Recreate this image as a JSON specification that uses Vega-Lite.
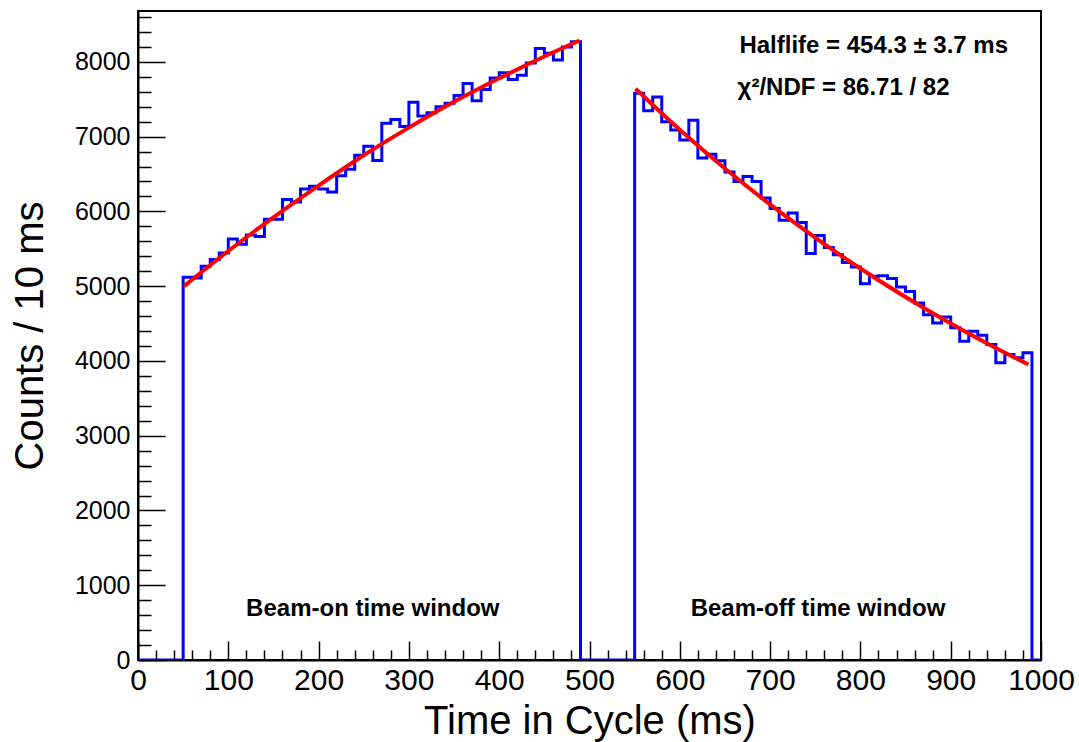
{
  "$schema": "https://vega.github.io/schema/vega-lite/v6.json",
  "width": 903,
  "height": 649,
  "autosize": "none",
  "padding": {"left": 138, "top": 11, "right": 38, "bottom": 82},
  "background": "white",
  "config": {
    "view": {"stroke": "black", "strokeWidth": 2},
    "font": "Liberation Sans",
    "axis": {"grid": false, "domainColor": "black", "tickColor": "black", "labelColor": "black", "titleColor": "black", "labelFont": "Liberation Sans", "titleFont": "Liberation Sans", "titleFontWeight": "normal", "tickWidth": 1.5, "domainWidth": 2}
  },
  "datasets": {
    "hist": [
      {"t": 0, "n": 0}, {"t": 10, "n": 0}, {"t": 20, "n": 0}, {"t": 30, "n": 0}, {"t": 40, "n": 0},
      {"t": 50, "n": 5120}, {"t": 60, "n": 5110}, {"t": 70, "n": 5265}, {"t": 80, "n": 5355}, {"t": 90, "n": 5445},
      {"t": 100, "n": 5630}, {"t": 110, "n": 5560}, {"t": 120, "n": 5685}, {"t": 130, "n": 5665}, {"t": 140, "n": 5895},
      {"t": 150, "n": 5895}, {"t": 160, "n": 6160}, {"t": 170, "n": 6125}, {"t": 180, "n": 6300}, {"t": 190, "n": 6335},
      {"t": 200, "n": 6300}, {"t": 210, "n": 6260}, {"t": 220, "n": 6475}, {"t": 230, "n": 6565}, {"t": 240, "n": 6750},
      {"t": 250, "n": 6870}, {"t": 260, "n": 6680}, {"t": 270, "n": 7180}, {"t": 280, "n": 7230}, {"t": 290, "n": 7135},
      {"t": 300, "n": 7460}, {"t": 310, "n": 7275}, {"t": 320, "n": 7320}, {"t": 330, "n": 7400}, {"t": 340, "n": 7445},
      {"t": 350, "n": 7550}, {"t": 360, "n": 7710}, {"t": 370, "n": 7480}, {"t": 380, "n": 7630}, {"t": 390, "n": 7785},
      {"t": 400, "n": 7855}, {"t": 410, "n": 7765}, {"t": 420, "n": 7820}, {"t": 430, "n": 7985}, {"t": 440, "n": 8180},
      {"t": 450, "n": 8115}, {"t": 460, "n": 8025}, {"t": 470, "n": 8200}, {"t": 480, "n": 8270},
      {"t": 490, "n": 0}, {"t": 500, "n": 0}, {"t": 510, "n": 0}, {"t": 520, "n": 0}, {"t": 530, "n": 0}, {"t": 540, "n": 0},
      {"t": 550, "n": 7580}, {"t": 560, "n": 7345}, {"t": 570, "n": 7530}, {"t": 580, "n": 7200}, {"t": 590, "n": 7090},
      {"t": 600, "n": 6955}, {"t": 610, "n": 7220}, {"t": 620, "n": 6715}, {"t": 630, "n": 6765}, {"t": 640, "n": 6678},
      {"t": 650, "n": 6528}, {"t": 660, "n": 6400}, {"t": 670, "n": 6466}, {"t": 680, "n": 6400}, {"t": 690, "n": 6180},
      {"t": 700, "n": 6038}, {"t": 710, "n": 5883}, {"t": 720, "n": 5980}, {"t": 730, "n": 5850}, {"t": 740, "n": 5438},
      {"t": 750, "n": 5678}, {"t": 760, "n": 5517}, {"t": 770, "n": 5420}, {"t": 780, "n": 5318}, {"t": 790, "n": 5256},
      {"t": 800, "n": 5033}, {"t": 810, "n": 5131}, {"t": 820, "n": 5140}, {"t": 830, "n": 5104}, {"t": 840, "n": 4989},
      {"t": 850, "n": 4930}, {"t": 860, "n": 4775}, {"t": 870, "n": 4619}, {"t": 880, "n": 4508}, {"t": 890, "n": 4588},
      {"t": 900, "n": 4442}, {"t": 910, "n": 4263}, {"t": 920, "n": 4396}, {"t": 930, "n": 4343}, {"t": 940, "n": 4219},
      {"t": 950, "n": 3974}, {"t": 960, "n": 4085}, {"t": 970, "n": 4041}, {"t": 980, "n": 4108},
      {"t": 990, "n": 0}, {"t": 1000, "n": 0}
    ],
    "fit": [
      {"t": 51, "f": 5000, "seg": "on"}, {"t": 100, "f": 5470, "seg": "on"}, {"t": 150, "f": 5920, "seg": "on"},
      {"t": 200, "f": 6345, "seg": "on"}, {"t": 250, "f": 6750, "seg": "on"}, {"t": 300, "f": 7120, "seg": "on"},
      {"t": 350, "f": 7465, "seg": "on"}, {"t": 400, "f": 7780, "seg": "on"}, {"t": 450, "f": 8072, "seg": "on"},
      {"t": 489, "f": 8285, "seg": "on"},
      {"t": 551, "f": 7640, "seg": "off"}, {"t": 600, "f": 7092, "seg": "off"}, {"t": 650, "f": 6573, "seg": "off"},
      {"t": 700, "f": 6093, "seg": "off"}, {"t": 750, "f": 5649, "seg": "off"}, {"t": 800, "f": 5236, "seg": "off"},
      {"t": 850, "f": 4855, "seg": "off"}, {"t": 900, "f": 4501, "seg": "off"}, {"t": 950, "f": 4173, "seg": "off"},
      {"t": 986, "f": 3953, "seg": "off"}
    ],
    "stats": [
      {"t": 666, "n": 8212, "label": "Halflife = 454.3 ± 3.7 ms"},
      {"t": 664, "n": 7650, "label": "χ²/NDF = 86.71 / 82"}
    ],
    "windows": [
      {"t": 260, "n": 682, "label": "Beam-on time window"},
      {"t": 753, "n": 682, "label": "Beam-off time window"}
    ]
  },
  "layer": [
    {
      "data": {"name": "hist"},
      "mark": {"type": "line", "interpolate": "step-after", "color": "#0000ff", "strokeWidth": 3, "clip": true},
      "encoding": {
        "x": {"field": "t", "type": "quantitative", "scale": {"domain": [0, 1000], "nice": false, "zero": false},
          "axis": {"orient": "bottom", "values": [0, 100, 200, 300, 400, 500, 600, 700, 800, 900, 1000], "format": "d", "tickSize": -19, "labelFontSize": 30, "labelPadding": 24, "labelFlush": false, "labelOverlap": false, "title": "Time in Cycle (ms)", "titleFontSize": 40, "titlePadding": 6}},
        "y": {"field": "n", "type": "quantitative", "scale": {"domain": [0, 8680], "nice": false},
          "axis": {"orient": "left", "values": [0, 1000, 2000, 3000, 4000, 5000, 6000, 7000, 8000], "format": "d", "tickSize": -27, "labelFontSize": 25, "labelPadding": 35, "labelFlush": false, "labelOverlap": false, "title": "Counts / 10 ms", "titleFontSize": 40, "titlePadding": 24}}
      }
    },
    {
      "data": {"name": "fit"},
      "mark": {"type": "line", "interpolate": "monotone", "color": "#ff0000", "strokeWidth": 4},
      "encoding": {
        "x": {"field": "t", "type": "quantitative", "scale": {"domain": [0, 1000], "nice": false, "zero": false},
          "axis": {"orient": "bottom", "values": [20, 40, 60, 80, 120, 140, 160, 180, 220, 240, 260, 280, 320, 340, 360, 380, 420, 440, 460, 480, 520, 540, 560, 580, 620, 640, 660, 680, 720, 740, 760, 780, 820, 840, 860, 880, 920, 940, 960, 980], "tickSize": -10, "labels": false, "domain": false, "title": null}},
        "y": {"field": "f", "type": "quantitative", "scale": {"domain": [0, 8680], "nice": false},
          "axis": {"orient": "left", "values": [200, 400, 600, 800, 1200, 1400, 1600, 1800, 2200, 2400, 2600, 2800, 3200, 3400, 3600, 3800, 4200, 4400, 4600, 4800, 5200, 5400, 5600, 5800, 6200, 6400, 6600, 6800, 7200, 7400, 7600, 7800, 8200, 8400, 8600], "tickSize": -13, "labels": false, "domain": false, "title": null}},
        "detail": {"field": "seg", "type": "nominal"}
      }
    },
    {
      "data": {"name": "stats"},
      "mark": {"type": "text", "align": "left", "baseline": "middle", "fontSize": 24, "fontWeight": "bold", "font": "Liberation Sans", "color": "black"},
      "encoding": {
        "x": {"field": "t", "type": "quantitative", "axis": null},
        "y": {"field": "n", "type": "quantitative", "axis": null},
        "text": {"field": "label"}
      }
    },
    {
      "data": {"name": "windows"},
      "mark": {"type": "text", "align": "center", "baseline": "middle", "fontSize": 24, "fontWeight": "bold", "font": "Liberation Sans", "color": "black"},
      "encoding": {
        "x": {"field": "t", "type": "quantitative", "axis": null},
        "y": {"field": "n", "type": "quantitative", "axis": null},
        "text": {"field": "label"}
      }
    }
  ],
  "resolve": {"axis": {"x": "independent", "y": "independent"}}
}
